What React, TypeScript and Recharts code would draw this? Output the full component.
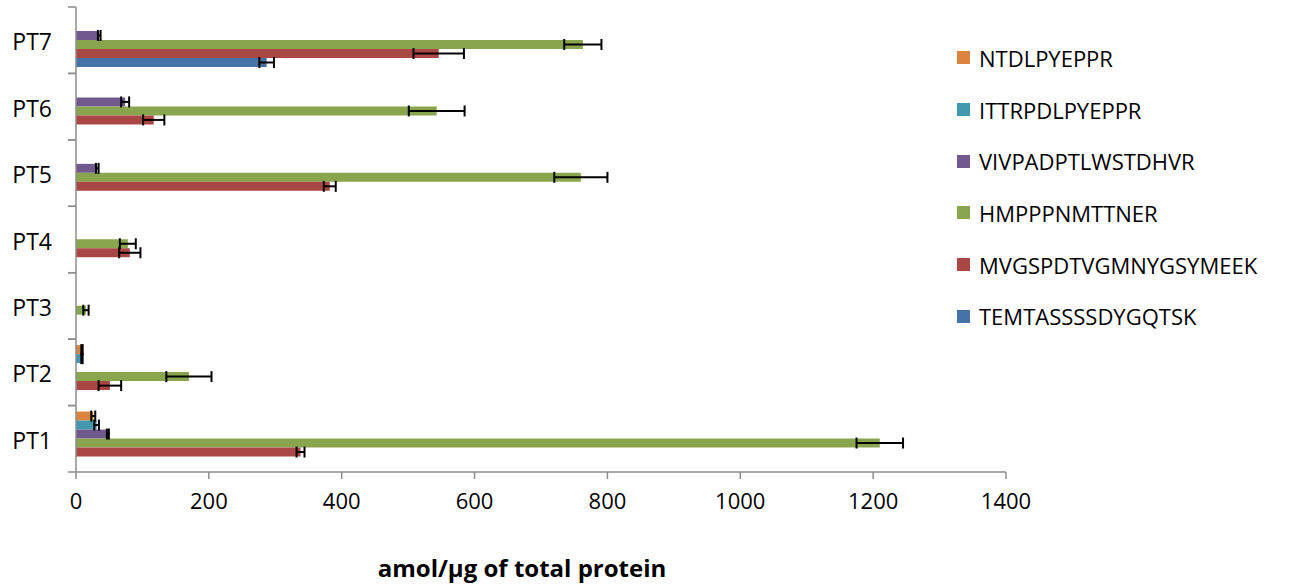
import { BarChart, Bar, XAxis, YAxis, ErrorBar, Label } from 'recharts';

const FONT = '"Open Sans", "Noto Sans", sans-serif';

const categories = ['PT1', 'PT2', 'PT3', 'PT4', 'PT5', 'PT6', 'PT7'];

// series listed top -> bottom as in the legend
const seriesNames = [
  'NTDLPYEPPR',
  'ITTRPDLPYEPPR',
  'VIVPADPTLWSTDHVR',
  'HMPPPNMTTNER',
  'MVGSPDTVGMNYGSYMEEK',
  'TEMTASSSSDYGQTSK',
];
const seriesColors = ['#DB843D', '#4198AF', '#71588F', '#89A54E', '#AA4643', '#4572A7'];

const ntdlpyeppr = [26, 9, null, null, null, null, null];
const ntdlpyepprErr = [3, 1, null, null, null, null, null];
const ittrpdlpyeppr = [31, 9, null, null, null, null, null];
const ittrpdlpyepprErr = [3.5, 1, null, null, null, null, null];
const vivpadptlwstdhvr = [48, null, null, null, 32, 74, 35];
const vivpadptlwstdhvrErr = [1.5, null, null, null, 2, 6, 2];
const hmpppnmttner = [1210, 170, 15, 78, 760, 543, 763];
const hmpppnmttnerErr = [35, 34, 4, 12, 40, 42, 28];
const mvgspdtvgmnygsymeek = [338, 51, null, 81, 382, 117, 546];
const mvgspdtvgmnygsymeekErr = [6, 17, null, 16, 9, 16, 38];
const temtassssdygqtsk = [null, null, null, null, null, null, 287];
const temtassssdygqtskErr = [null, null, null, null, null, null, 11];

const xTicks = [0, 200, 400, 600, 800, 1000, 1200, 1400];

const values = [ntdlpyeppr, ittrpdlpyeppr, vivpadptlwstdhvr, hmpppnmttner, mvgspdtvgmnygsymeek, temtassssdygqtsk];
const errors = [ntdlpyepprErr, ittrpdlpyepprErr, vivpadptlwstdhvrErr, hmpppnmttnerErr, mvgspdtvgmnygsymeekErr, temtassssdygqtskErr];

const data = categories.map((name, i) => {
  const row: Record<string, any> = { name };
  seriesNames.forEach((s, k) => {
    row['v' + k] = values[k][i] ?? undefined;
    row['e' + k] = errors[k][i] ?? undefined;
  });
  return row;
});

// layout
const W = 1292;
const H = 586;
const PLOT_LEFT = 76;
const PLOT_RIGHT = 1006;
const PLOT_TOP = 7;
const PLOT_BOTTOM = 472;
const BAND = (PLOT_BOTTOM - PLOT_TOP) / categories.length;
const AXIS = '#8c8c8c';

function CategoryTick(props: any) {
  const { y, payload } = props;
  return (
    <g>
      <line x1={PLOT_LEFT - 8} x2={PLOT_LEFT} y1={y - BAND / 2} y2={y - BAND / 2} stroke={AXIS} strokeWidth={1.5} />
      <line x1={PLOT_LEFT - 8} x2={PLOT_LEFT} y1={y + BAND / 2} y2={y + BAND / 2} stroke={AXIS} strokeWidth={1.5} />
      <text x={PLOT_LEFT - 24} y={y + 1} textAnchor="end" dominantBaseline="central" fontSize={23} fontFamily={FONT} fill="#000">
        {payload.value}
      </text>
    </g>
  );
}

function ChartLegend() {
  return (
    <div style={{ position: 'absolute', left: 957, top: 32, fontFamily: FONT, fontSize: 22, color: '#000' }}>
      {seriesNames.map((s, k) => (
        <div key={s} style={{ display: 'flex', alignItems: 'center', height: 51.7, whiteSpace: 'nowrap' }}>
          <span style={{ display: 'inline-block', width: 13, height: 13, background: seriesColors[k], marginRight: 9 }} />
          <span>{s}</span>
        </div>
      ))}
    </div>
  );
}

export default function App() {
  return (
    <div style={{ position: 'absolute', left: 0, top: 0, width: W, height: H, background: '#fff' }}>
      <BarChart
        width={W}
        height={H}
        data={data}
        layout="vertical"
        margin={{ top: PLOT_TOP, right: W - PLOT_RIGHT, bottom: 0, left: 0 }}
        barCategoryGap="9%"
        barGap={0}
      >
        <XAxis
          type="number"
          domain={[0, 1400]}
          ticks={xTicks}
          height={H - PLOT_BOTTOM}
          stroke={AXIS}
          axisLine={{ stroke: AXIS, strokeWidth: 1.5 }}
          tickLine={{ stroke: AXIS, strokeWidth: 1.5 }}
          tickSize={7}
          tickMargin={14}
          tick={{ fill: '#000', fontSize: 22, fontFamily: FONT }}
          interval={0}
        >
          <Label
            value="amol/µg of total protein"
            position="insideBottom"
            offset={9}
            dx={-19}
            style={{ fontFamily: FONT, fontSize: 24, fontWeight: 'bold', fill: '#000' }}
          />
        </XAxis>
        <YAxis
          type="category"
          dataKey="name"
          reversed
          width={PLOT_LEFT}
          axisLine={{ stroke: AXIS, strokeWidth: 1.5 }}
          tickLine={false}
          tick={<CategoryTick />}
          interval={0}
        />
        {seriesNames.map((s, k) => (
          <Bar key={s} dataKey={'v' + k} name={s} fill={seriesColors[k]} isAnimationActive={false}>
            <ErrorBar dataKey={'e' + k} direction="x" width={5.5} stroke="#000" strokeWidth={2} />
          </Bar>
        ))}
      </BarChart>
      <ChartLegend />
    </div>
  );
}
